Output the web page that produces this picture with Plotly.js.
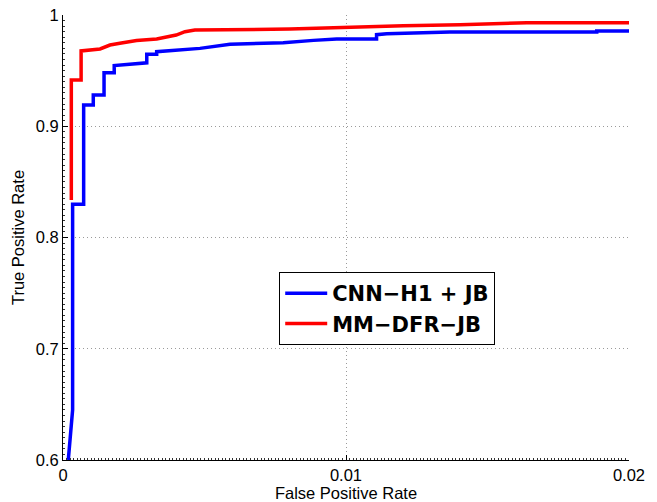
<!DOCTYPE html>
<html>
<head>
<meta charset="utf-8">
<script src="https://cdn.plot.ly/plotly-3.0.1.min.js"></script>
<style>html,body{margin:0;padding:0;background:#fff;}#chart{width:657px;height:502px;}</style>
</head>
<body>
<div id="chart"></div>
<script>
// CNN-H1 + JB ROC (false positive rate, true positive rate)
var cnnFpr = [0.000187, 0.00034, 0.00034, 0.00073, 0.00073, 0.00107, 0.00107, 0.00145, 0.00145, 0.00181, 0.00181, 0.0024, 0.00296, 0.00296, 0.00331, 0.00331, 0.0040, 0.00484, 0.0059, 0.00778, 0.00885, 0.00967, 0.01108, 0.01108, 0.01144, 0.01297, 0.01367, 0.01886, 0.01886, 0.02];
var cnnTpr = [0.6, 0.645, 0.830, 0.830, 0.919, 0.919, 0.928, 0.928, 0.948, 0.948, 0.9545, 0.956, 0.957, 0.9647, 0.9647, 0.967, 0.9686, 0.970, 0.9737, 0.9751, 0.9772, 0.9784, 0.9784, 0.9823, 0.9832, 0.9838, 0.9847, 0.9847, 0.9856, 0.9856];
// MM-DFR-JB ROC
var mmFpr = [0.000294, 0.000294, 0.00064, 0.00064, 0.00131, 0.00166, 0.00201, 0.0026, 0.00331, 0.00366, 0.0040, 0.00431, 0.00466, 0.00802, 0.00967, 0.01203, 0.01403, 0.01533, 0.01639, 0.02];
var mmTpr = [0.8336, 0.9416, 0.9416, 0.9677, 0.9695, 0.973, 0.9746, 0.977, 0.9784, 0.9805, 0.982, 0.985, 0.9865, 0.9874, 0.9889, 0.9904, 0.9913, 0.9922, 0.9931, 0.9931];
var seriesNames = ["CNN\u2212H1 + JB", "MM\u2212DFR\u2212JB"];
var xTickVals = [0, 0.01, 0.02];
var xTickText = ["0", "0.01", "0.02"];
var yTickVals = [0.6, 0.7, 0.8, 0.9, 1];
var yTickText = ["0.6", "0.7", "0.8", "0.9", "1"];

var font = "Liberation Sans, Arial, sans-serif";
var traces = [
  {x: cnnFpr, y: cnnTpr, mode: "lines", name: seriesNames[0], line: {color: "#0000ff", width: 3.5}},
  {x: mmFpr, y: mmTpr, mode: "lines", name: seriesNames[1], line: {color: "#ff0000", width: 3.5}}
];
var layout = {
  width: 657, height: 502,
  margin: {l: 63, r: 28, t: 15, b: 42},
  paper_bgcolor: "#fff", plot_bgcolor: "#fff",
  showlegend: true,
  legend: {x: 0.382, y: 0.4225, xanchor: "left", yanchor: "top", bgcolor: "#fff", bordercolor: "#000", borderwidth: 1,
           font: {family: "DejaVu Sans, sans-serif", size: 21, color: "#000", weight: "bold"}, tracegroupgap: 0, itemwidth: 42},
  xaxis: {range: [0, 0.02], tickvals: xTickVals, ticktext: xTickText, showline: true, linecolor: "#000", linewidth: 1,
          ticks: "inside", ticklen: 5, tickcolor: "#000", showgrid: true, gridcolor: "#9a9a9a", griddash: "1px,3px", gridwidth: 1,
          zeroline: false, tickfont: {family: font, size: 16.5, color: "#000"},
          minor: {dtick: 0.000125, ticks: "inside", ticklen: 2, tickcolor: "#333", showgrid: false},
          title: {text: "False Positive Rate", font: {family: font, size: 16.5, color: "#000"}, standoff: 0}},
  yaxis: {range: [0.6, 1], tickvals: yTickVals, ticktext: yTickText, showline: true, linecolor: "#000", linewidth: 1,
          ticks: "inside", ticklen: 5, tickcolor: "#000", showgrid: true, gridcolor: "#9a9a9a", griddash: "1px,3px", gridwidth: 1,
          zeroline: false, tickfont: {family: font, size: 16.5, color: "#000"},
          minor: {dtick: 0.005, ticks: "inside", ticklen: 2, tickcolor: "#333", showgrid: false},
          title: {text: "True Positive Rate", font: {family: font, size: 16.5, color: "#000"}, standoff: 6}}
};
Plotly.newPlot("chart", traces, layout, {displayModeBar: false, staticPlot: true});
</script>
</body>
</html>
